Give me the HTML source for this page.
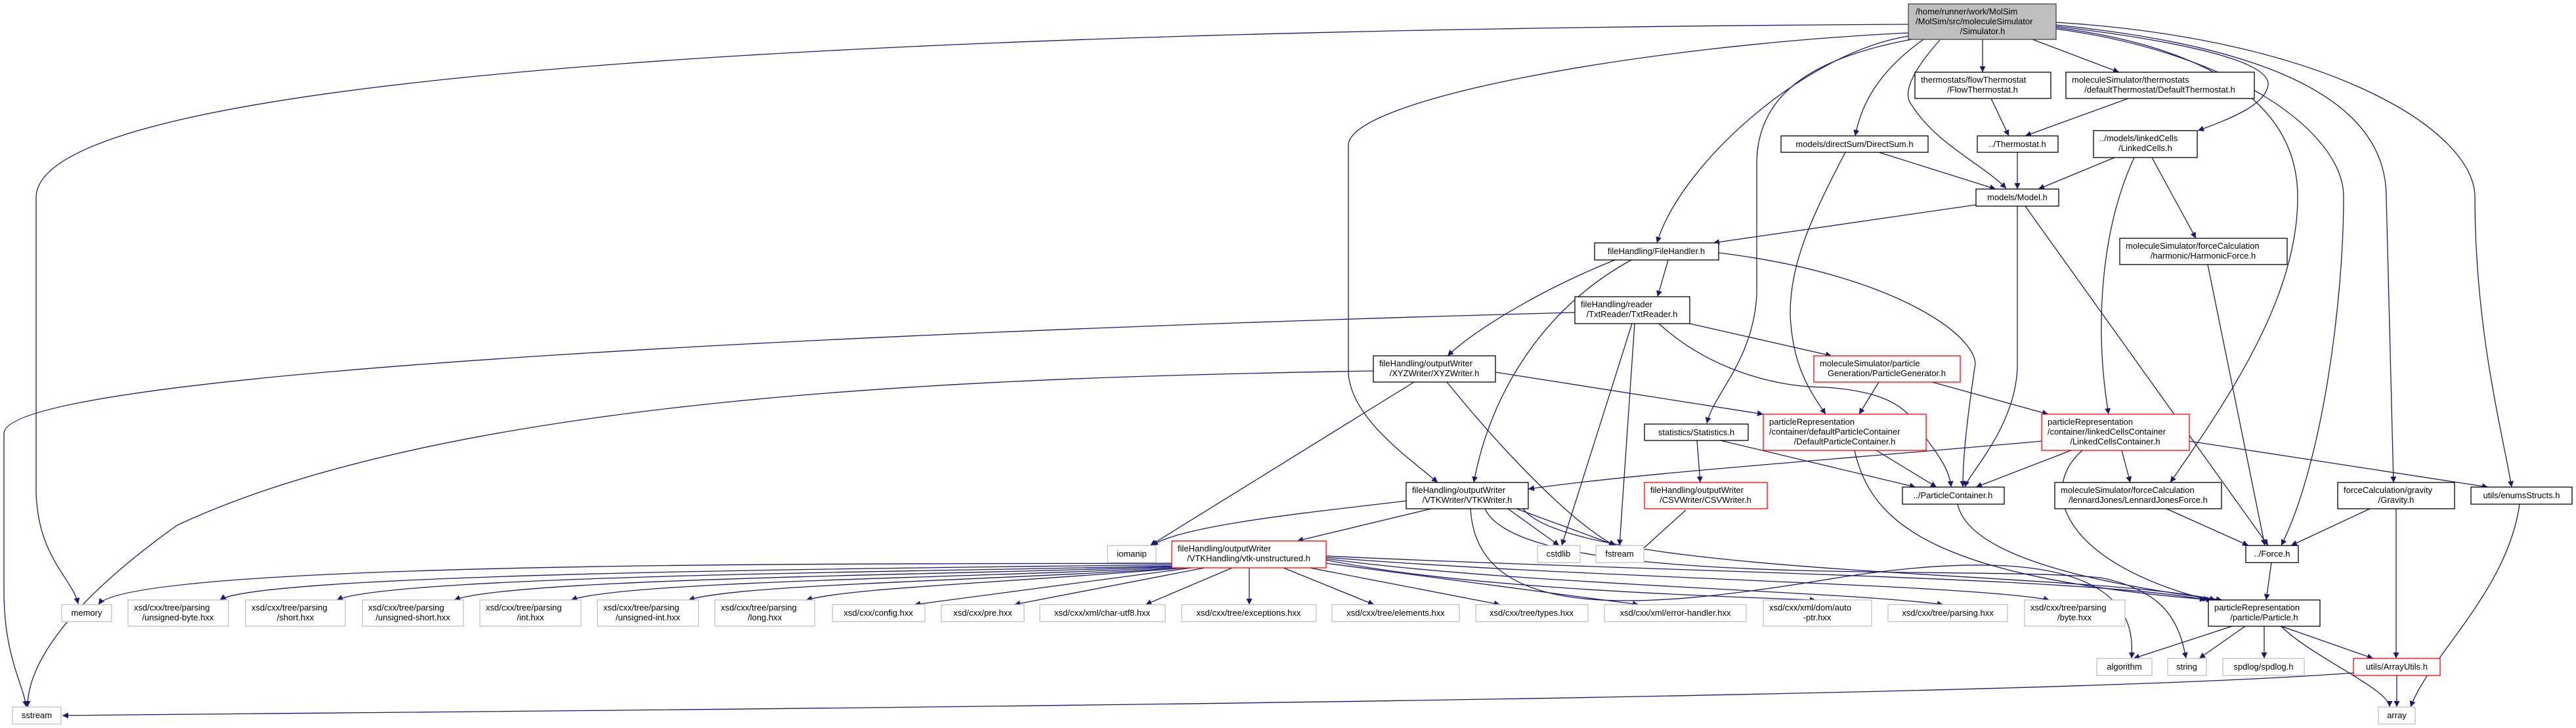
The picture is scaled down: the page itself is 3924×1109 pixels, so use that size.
<!DOCTYPE html>
<html><head><meta charset="utf-8"><style>
html,body{margin:0;padding:0;background:#fff;}
svg{display:block;}
text{font-family:"Liberation Sans","DejaVu Sans",sans-serif;font-size:13px;fill:#000;}
.e{fill:none;stroke:#191970;stroke-width:1.3;marker-end:url(#a);}
.b{fill:#fff;stroke:#000;stroke-width:1.3;}
.r{fill:#fff;stroke:#ff0000;stroke-width:1.3;}
.g{fill:#fff;stroke:#bfbfbf;stroke-width:1.3;}
</style></head><body>
<svg width="3924" height="1109" viewBox="0 0 3924 1109" xmlns="http://www.w3.org/2000/svg">
<defs><marker id="a" viewBox="0 0 10 10" refX="10" refY="5" markerWidth="12" markerHeight="9" orient="auto" markerUnits="userSpaceOnUse"><path d="M0,0 L10,5 L0,10z" fill="#191970"/></marker></defs>

<!-- edges -->
<g>
<!-- Simulator -->
<path class="e" d="M2907,37 C1500,45 60,100 55,300 L55,750 C58,850 110,880 119,920"/>
<path class="e" d="M2907,55 C2750,80 2560,250 2524,370"/>
<path class="e" d="M2907,50 C2500,70 2060,150 2054,220 L2054,570 C2060,640 2150,700 2190,735"/>
<path class="e" d="M2912,60 C2750,90 2676,150 2676,250 L2676,450 C2670,550 2610,600 2600,645"/>
<path class="e" d="M2930,60 C2860,110 2835,160 2826,207"/>
<path class="e" d="M2955,61 C2920,100 2895,140 2912,160 C2950,220 3020,250 3056,287"/>
<path class="e" d="M3020,60 L3020,110"/>
<path class="e" d="M3096,60 L3228,110"/>
<path class="e" d="M3132,40 C3300,60 3460,90 3455,130 C3450,160 3400,180 3348,199"/>
<path class="e" d="M3132,42 C3350,70 3500,150 3500,300 C3500,450 3400,600 3306,735"/>
<path class="e" d="M3132,44 C3400,80 3570,200 3570,300 C3570,450 3540,700 3475,831"/>
<path class="e" d="M3132,38 C3450,70 3635,150 3635,300 L3646,735"/>
<path class="e" d="M3132,34 C3550,60 3770,200 3770,300 C3770,500 3810,650 3826,742"/>
<!-- mid -->
<path class="e" d="M2811,232 C2760,330 2727,400 2727,478 C2730,560 2760,600 2781,631"/>
<path class="e" d="M2862,232 L3040,288"/>
<path class="e" d="M3033,150 L3060,207"/>
<path class="e" d="M3242,150 L3085,207"/>
<path class="e" d="M3073,232 L3073,288"/>
<path class="e" d="M3221,240 L3105,288"/>
<path class="e" d="M3278,240 L3345,363"/>
<path class="e" d="M3251,240 C3200,350 3190,500 3212,631"/>
<path class="e" d="M3010,312 L2610,370"/>
<path class="e" d="M3073,314 L3073,560 C3070,650 3000,720 2993,742"/>
<path class="e" d="M3085,314 L3455,831"/>
<path class="e" d="M3363,403 L3450,831"/>
<path class="e" d="M2618,385 C2900,420 3020,520 3008,560 C2995,650 2990,700 2990,742"/>
<path class="e" d="M2541,396 L2525,452"/>
<path class="e" d="M2460,396 C2350,440 2250,500 2205,542"/>
<path class="e" d="M2485,396 C2350,470 2270,600 2245,735"/>
<path class="e" d="M2399,476 C1500,500 10,560 6,660 L6,900 C6,1000 35,1040 40,1077"/>
<path class="e" d="M2574,493 L2790,542"/>
<path class="e" d="M2527,493 C2600,560 2700,590 2782,590 C2850,595 2900,610 2920,650 C2960,700 2970,720 2972,742"/>
<path class="e" d="M2486,493 L2379,831"/>
<path class="e" d="M2490,493 L2467,831"/>
<path class="e" d="M2092,565 C1500,575 700,600 270,800 C60,950 42,1040 42,1077"/>
<path class="e" d="M2278,567 L2686,631"/>
<path class="e" d="M2154,582 L1752,831"/>
<path class="e" d="M2204,582 C2300,700 2400,800 2460,831"/>
<path class="e" d="M2585,671 L2590,735"/>
<path class="e" d="M2621,671 L2918,742"/>
<path class="e" d="M3110,672 C2800,700 2500,720 2328,745"/>
<path class="e" d="M2568,777 L2495,843"/>
<path class="e" d="M2142,763 C2000,780 1800,800 1755,831"/>
<path class="e" d="M2180,775 L1976,824"/>
<path class="e" d="M2297,775 L2375,831"/>
<path class="e" d="M2310,775 L2462,831"/>
<path class="e" d="M2240,775 C2250,950 2500,930 2800,880 C3250,810 3250,950 3247,1003"/>
<path class="e" d="M2262,775 C2320,900 3000,860 3200,880 C3300,900 3320,950 3330,1003"/>
<path class="e" d="M2320,775 C2400,880 3200,870 3375,914"/>
<path class="e" d="M2862,582 L2832,631"/>
<path class="e" d="M2943,582 L3120,631"/>
<path class="e" d="M2858,686 L2950,742"/>
<path class="e" d="M2825,686 C2850,800 2950,880 3370,914"/>
<path class="e" d="M3155,686 L3010,742"/>
<path class="e" d="M3232,686 L3245,735"/>
<path class="e" d="M3335,672 L3790,742"/>
<path class="e" d="M3172,686 C3100,750 3150,860 3365,914"/>
<path class="e" d="M3300,775 L3425,831"/>
<path class="e" d="M3610,775 L3490,831"/>
<path class="e" d="M3650,775 L3650,1003"/>
<path class="e" d="M3838,768 C3820,900 3700,1000 3672,1077"/>
<path class="e" d="M3460,857 L3452,914"/>
<path class="e" d="M2982,768 C3000,850 3200,890 3385,914"/>
<path class="e" d="M3400,954 L3250,1003"/>
<path class="e" d="M3420,954 L3350,1003"/>
<path class="e" d="M3449,954 L3449,1003"/>
<path class="e" d="M3475,954 L3615,1003"/>
<path class="e" d="M3475,954 C3520,1000 3640,1050 3640,1077"/>
<path class="e" d="M3651,1029 L3651,1077"/>
<path class="e" d="M3585,1025 C3000,1070 500,1085 95,1090"/>
<!-- vtk-unstructured -->
<path class="e" d="M1785,858 C1500,860 200,850 150,921"/>
<path class="e" d="M1785,860 C1500,865 400,870 335,914"/>
<path class="e" d="M1785,862 C1500,870 600,875 513,914"/>
<path class="e" d="M1790,863 C1500,875 780,880 692,914"/>
<path class="e" d="M1795,864 C1500,880 950,885 870,914"/>
<path class="e" d="M1800,865 C1500,885 1120,890 1049,914"/>
<path class="e" d="M1805,865 C1500,890 1300,895 1228,914"/>
<path class="e" d="M1815,865 L1393,921"/>
<path class="e" d="M1835,865 L1545,921"/>
<path class="e" d="M1877,865 L1745,921"/>
<path class="e" d="M1903,865 L1903,921"/>
<path class="e" d="M1955,865 L2093,921"/>
<path class="e" d="M1995,865 L2285,921"/>
<path class="e" d="M2020,858 L2496,921"/>
<path class="e" d="M2020,853 C2200,890 2500,905 2766,914"/>
<path class="e" d="M2020,851 C2300,890 2800,900 2960,921"/>
<path class="e" d="M2020,849 C2400,880 3000,890 3122,914"/>
<path class="e" d="M2020,847 C2500,870 3200,880 3360,914"/>
</g>

<!-- nodes -->
<rect x="2907" y="6" width="225" height="54" fill="#bfbfbf" stroke="#404040" stroke-width="1.3"/>
<text x="2918" y="22">/home/runner/work/MolSim</text>
<text x="2918" y="37">/MolSim/src/moleculeSimulator</text>
<text x="3020" y="52" text-anchor="middle">/Simulator.h</text>

<rect class="b" x="2917" y="110" width="207" height="40"/>
<text x="2926" y="126">thermostats/flowThermostat</text>
<text x="3020" y="141" text-anchor="middle">/FlowThermostat.h</text>

<rect class="b" x="3147" y="110" width="287" height="40"/>
<text x="3156" y="126">moleculeSimulator/thermostats</text>
<text x="3290" y="141" text-anchor="middle">/defaultThermostat/DefaultThermostat.h</text>

<rect class="b" x="2713" y="207" width="224" height="25"/>
<text x="2825" y="224" text-anchor="middle">models/directSum/DirectSum.h</text>

<rect class="b" x="3012" y="207" width="123" height="25"/>
<text x="3073" y="224" text-anchor="middle">../Thermostat.h</text>

<rect class="b" x="3189" y="199" width="158" height="41"/>
<text x="3198" y="215">../models/linkedCells</text>
<text x="3268" y="230" text-anchor="middle">/LinkedCells.h</text>

<rect class="b" x="3010" y="288" width="126" height="26"/>
<text x="3073" y="305" text-anchor="middle">models/Model.h</text>

<rect class="b" x="3229" y="363" width="255" height="40"/>
<text x="3238" y="379">moleculeSimulator/forceCalculation</text>
<text x="3356" y="394" text-anchor="middle">/harmonic/HarmonicForce.h</text>

<rect class="b" x="2429" y="370" width="189" height="26"/>
<text x="2523" y="387" text-anchor="middle">fileHandling/FileHandler.h</text>

<rect class="b" x="2399" y="452" width="175" height="41"/>
<text x="2408" y="468">fileHandling/reader</text>
<text x="2486" y="483" text-anchor="middle">/TxtReader/TxtReader.h</text>

<rect class="r" x="2763" y="542" width="223" height="40"/>
<text x="2772" y="558">moleculeSimulator/particle</text>
<text x="2874" y="573" text-anchor="middle">Generation/ParticleGenerator.h</text>

<rect class="b" x="2092" y="542" width="186" height="40"/>
<text x="2101" y="558">fileHandling/outputWriter</text>
<text x="2185" y="573" text-anchor="middle">/XYZWriter/XYZWriter.h</text>

<rect class="b" x="2505" y="646" width="158" height="25"/>
<text x="2584" y="663" text-anchor="middle">statistics/Statistics.h</text>

<rect class="r" x="2686" y="631" width="248" height="55"/>
<text x="2695" y="647">particleRepresentation</text>
<text x="2695" y="662">/container/defaultParticleContainer</text>
<text x="2810" y="677" text-anchor="middle">/DefaultParticleContainer.h</text>

<rect class="r" x="3110" y="631" width="225" height="55"/>
<text x="3119" y="647">particleRepresentation</text>
<text x="3119" y="662">/container/linkedCellsContainer</text>
<text x="3222" y="677" text-anchor="middle">/LinkedCellsContainer.h</text>

<rect class="b" x="2142" y="735" width="186" height="40"/>
<text x="2151" y="751">fileHandling/outputWriter</text>
<text x="2235" y="766" text-anchor="middle">/VTKWriter/VTKWriter.h</text>

<rect class="r" x="2505" y="735" width="187" height="40"/>
<text x="2514" y="751">fileHandling/outputWriter</text>
<text x="2598" y="766" text-anchor="middle">/CSVWriter/CSVWriter.h</text>

<rect class="b" x="2898" y="742" width="155" height="26"/>
<text x="2975" y="759" text-anchor="middle">../ParticleContainer.h</text>

<rect class="b" x="3130" y="735" width="254" height="40"/>
<text x="3139" y="751">moleculeSimulator/forceCalculation</text>
<text x="3257" y="766" text-anchor="middle">/lennardJones/LennardJonesForce.h</text>

<rect class="b" x="3561" y="735" width="178" height="40"/>
<text x="3570" y="751">forceCalculation/gravity</text>
<text x="3650" y="766" text-anchor="middle">/Gravity.h</text>

<rect class="b" x="3764" y="742" width="154" height="26"/>
<text x="3841" y="759" text-anchor="middle">utils/enumsStructs.h</text>

<rect class="b" x="3421" y="831" width="80" height="26"/>
<text x="3461" y="848" text-anchor="middle">../Force.h</text>

<rect class="g" x="1687" y="831" width="74" height="26"/>
<text x="1724" y="848" text-anchor="middle">iomanip</text>

<rect class="r" x="1785" y="824" width="235" height="41"/>
<text x="1794" y="840">fileHandling/outputWriter</text>
<text x="1902" y="855" text-anchor="middle">/VTKHandling/vtk-unstructured.h</text>

<rect class="g" x="2342" y="831" width="65" height="26"/>
<text x="2374" y="848" text-anchor="middle">cstdlib</text>
<rect class="g" x="2431" y="831" width="73" height="26"/>
<text x="2467" y="848" text-anchor="middle">fstream</text>

<rect class="b" x="3364" y="914" width="170" height="40"/>
<text x="3373" y="930">particleRepresentation</text>
<text x="3449" y="945" text-anchor="middle">/particle/Particle.h</text>

<!-- bottom xsd row -->
<rect class="g" x="94" y="921" width="76" height="26"/><text x="132" y="938" text-anchor="middle">memory</text>
<rect class="g" x="195" y="914" width="153" height="40"/><text x="204" y="930">xsd/cxx/tree/parsing</text><text x="271" y="945" text-anchor="middle">/unsigned-byte.hxx</text>
<rect class="g" x="374" y="914" width="152" height="40"/><text x="383" y="930">xsd/cxx/tree/parsing</text><text x="450" y="945" text-anchor="middle">/short.hxx</text>
<rect class="g" x="552" y="914" width="154" height="40"/><text x="561" y="930">xsd/cxx/tree/parsing</text><text x="629" y="945" text-anchor="middle">/unsigned-short.hxx</text>
<rect class="g" x="731" y="914" width="154" height="40"/><text x="740" y="930">xsd/cxx/tree/parsing</text><text x="808" y="945" text-anchor="middle">/int.hxx</text>
<rect class="g" x="910" y="914" width="154" height="40"/><text x="919" y="930">xsd/cxx/tree/parsing</text><text x="987" y="945" text-anchor="middle">/unsigned-int.hxx</text>
<rect class="g" x="1089" y="914" width="152" height="40"/><text x="1098" y="930">xsd/cxx/tree/parsing</text><text x="1165" y="945" text-anchor="middle">/long.hxx</text>
<rect class="g" x="1268" y="921" width="141" height="26"/><text x="1338" y="938" text-anchor="middle">xsd/cxx/config.hxx</text>
<rect class="g" x="1434" y="921" width="126" height="26"/><text x="1497" y="938" text-anchor="middle">xsd/cxx/pre.hxx</text>
<rect class="g" x="1584" y="921" width="191" height="26"/><text x="1679" y="938" text-anchor="middle">xsd/cxx/xml/char-utf8.hxx</text>
<rect class="g" x="1800" y="921" width="205" height="26"/><text x="1902" y="938" text-anchor="middle">xsd/cxx/tree/exceptions.hxx</text>
<rect class="g" x="2029" y="921" width="194" height="26"/><text x="2126" y="938" text-anchor="middle">xsd/cxx/tree/elements.hxx</text>
<rect class="g" x="2248" y="921" width="171" height="26"/><text x="2333" y="938" text-anchor="middle">xsd/cxx/tree/types.hxx</text>
<rect class="g" x="2444" y="921" width="216" height="26"/><text x="2552" y="938" text-anchor="middle">xsd/cxx/xml/error-handler.hxx</text>
<rect class="g" x="2686" y="914" width="165" height="40"/><text x="2695" y="930">xsd/cxx/xml/dom/auto</text><text x="2768" y="945" text-anchor="middle">-ptr.hxx</text>
<rect class="g" x="2876" y="921" width="182" height="26"/><text x="2967" y="938" text-anchor="middle">xsd/cxx/tree/parsing.hxx</text>
<rect class="g" x="3084" y="914" width="153" height="40"/><text x="3093" y="930">xsd/cxx/tree/parsing</text><text x="3160" y="945" text-anchor="middle">/byte.hxx</text>

<rect class="g" x="3194" y="1003" width="84" height="26"/><text x="3236" y="1020" text-anchor="middle">algorithm</text>
<rect class="g" x="3302" y="1003" width="59" height="26"/><text x="3331" y="1020" text-anchor="middle">string</text>
<rect class="g" x="3386" y="1003" width="124" height="26"/><text x="3448" y="1020" text-anchor="middle">spdlog/spdlog.h</text>
<rect class="r" x="3585" y="1003" width="132" height="26"/><text x="3651" y="1020" text-anchor="middle">utils/ArrayUtils.h</text>
<rect class="g" x="3623" y="1077" width="56" height="26"/><text x="3651" y="1094" text-anchor="middle">array</text>
<rect class="g" x="19" y="1077" width="74" height="26"/><text x="56" y="1094" text-anchor="middle">sstream</text>
</svg>
</body></html>
